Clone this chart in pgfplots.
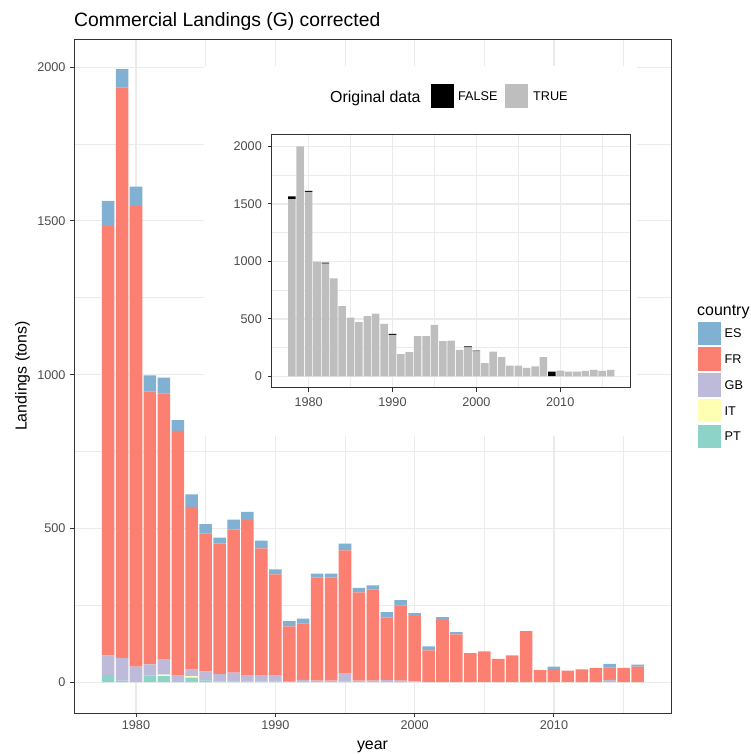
\documentclass[border=0pt]{standalone}
\usepackage{fontspec}
\setmainfont{Liberation Sans}
\usepackage{pgfplots}
\pgfplotsset{compat=1.18}
\usepackage{pgfplotstable}
\definecolor{cES}{HTML}{80B1D3}
\definecolor{cFR}{HTML}{FB8072}
\definecolor{cGB}{HTML}{BEBADA}
\definecolor{cIT}{HTML}{FFFFB3}
\definecolor{cPT}{HTML}{8DD3C7}
\definecolor{cTRUE}{HTML}{BEBEBE}
\definecolor{c20}{HTML}{333333}
\definecolor{c30}{HTML}{4D4D4D}
\definecolor{cgrid}{HTML}{EBEBEB}
\newcommand\tickfont{\fontsize{12.7}{13}\selectfont}
\newcommand\titlefont{\fontsize{16}{18}\selectfont}

\pgfplotstableread{
year PT IT GB FR ES
1978 24 0 63 1396 82
1979 5 0 74 1855 59
1980 4 0 47 1497 63
1981 22 0 36 888 52
1982 20 5 50 864 51
1983 4 0 19 794 35
1984 15 5 23 527 41
1985 6 0 29 448 31
1986 2 0 24 425 19
1987 2 0 29 465 33
1988 2 0 21 504 27
1989 2 0 21 412 25
1990 2 0 21 328 16
1991 0 0 4 178 17
1992 0 0 8 183 16
1993 0 0 5 335 13
1994 0 0 5 335 13
1995 3 0 25 401 22
1996 0 0 5 287 15
1997 0 0 5 296 14
1998 0 0 7 203 18
1999 0 0 5 245 17
2000 0 0 3 212 10
2001 0 0 0 104 13
2002 0 0 0 202 10
2003 0 0 0 156 7
2004 0 0 0 95 0
2005 0 0 0 100 0
2006 0 0 0 76 0
2007 0 0 0 87 0
2008 0 0 0 166 0
2009 0 0 0 39 0
2010 0 0 0 43 8
2011 0 0 0 38 0
2012 0 0 0 42 0
2013 0 0 0 47 0
2014 0 0 8 40 12
2015 0 0 0 47 0
2016 0 0 0 51 6
}\landings

\pgfplotstableread{
year T F
1978 1542 24
1979 2000 0
1980 1606 9
1981 999 0
1982 981 9
1983 854 0
1984 611 0
1985 512 0
1986 472 0
1987 524 0
1988 547 0
1989 457 0
1990 361 9
1991 194 0
1992 211 0
1993 350 0
1994 350 0
1995 449 0
1996 307 0
1997 313 0
1998 232 0
1999 254 9
2000 218 8
2001 116 0
2002 217 0
2003 168 0
2004 95 0
2005 95 0
2006 76 0
2007 89 0
2008 168 0
2009 3 40
2010 52 0
2011 43 0
2012 43 0
2013 49 0
2014 58 0
2015 49 0
2016 58 0
}\orig

\pgfplotsset{ggbw/.style={
  scale only axis, anchor=south west,
  axis line style={draw=c20, line width=1bp},
  grid=both,
  major grid style={draw=cgrid, line width=1.1bp},
  minor grid style={draw=cgrid, line width=0.55bp},
  tick align=outside, major tick length=3.7bp, minor tick length=0pt,
  tick style={draw=c20, line width=1bp},
  xtick pos=bottom, ytick pos=left,
  xtick={1980,1990,2000,2010}, minor xtick={1985,1995,2005,2015},
  ytick={0,500,1000,1500,2000}, minor ytick={250,750,1250,1750},
  ticklabel style={font=\tickfont, text=c30, inner sep=0pt},
  /pgf/number format/assume math mode=true,
  /pgf/number format/1000 sep={},
  ybar stacked, bar width=0.9,
  xmin=1975.55, xmax=2018.4,
}}

\begin{document}
\begin{tikzpicture}
\useasboundingbox (0bp,0bp) rectangle (751bp,754bp);
\fill[white] (0bp,0bp) rectangle (751bp,754bp);

\begin{axis}[ggbw, at={(74bp,41bp)}, width=597bp, height=673bp,
  ymin=-100, ymax=2088,
  yticklabel style={anchor=east, xshift=-4.6bp},
  xticklabel style={anchor=north, yshift=-3.6bp}]
\addplot[fill=cPT, draw=none] table[x=year, y=PT] {\landings};
\addplot[fill=cIT, draw=none] table[x=year, y=IT] {\landings};
\addplot[fill=cGB, draw=none] table[x=year, y=GB] {\landings};
\addplot[fill=cFR, draw=none] table[x=year, y=FR] {\landings};
\addplot[fill=cES, draw=none] table[x=year, y=ES] {\landings};
\end{axis}

% inset viewport
\fill[white] (204bp,318bp) rectangle (637bp,688bp);

\begin{axis}[ggbw, at={(271.7bp,366bp)}, width=359bp, height=253bp,
  xmin=1975.6, xmax=2018.4, ymin=-100, ymax=2100,
  yticklabel style={anchor=east, xshift=-6bp},
  xticklabel style={anchor=north, yshift=-5.7bp}]
\addplot[fill=cTRUE, draw=none] table[x=year, y=T] {\orig};
\addplot[fill=black, draw=none] table[x=year, y=F] {\orig};
\end{axis}

% titles
\node[anchor=base west, inner sep=0pt, font=\fontsize{19.4}{22}\selectfont] at (74bp,727bp) {Commercial Landings (G) corrected};
\node[anchor=base, inner sep=0pt, font=\titlefont] at (372.5bp,5bp) {year};
\node[anchor=base, inner sep=0pt, rotate=90, font=\titlefont] at (26.5bp,378bp) {Landings (tons)};

% country legend
\node[anchor=base west, inner sep=0pt, font=\titlefont] at (697bp,438bp) {country};
\foreach \c/\t [count=\i from 0] in {cES/ES,cFR/FR,cGB/GB,cIT/IT,cPT/PT}{
  \fill[\c] (697.7bp,{432.3bp-25.8bp*\i}) rectangle ++(23.3bp,-23.3bp);
  \node[anchor=west, inner sep=0pt, font=\tickfont] at (724.5bp,{420.6bp-25.8bp*\i}) {\t};
}

% inset legend
\node[anchor=base west, inner sep=0pt, font=\titlefont] at (330bp,651bp) {Original data};
\fill[black] (430.7bp,646.3bp) rectangle (454bp,669.7bp);
\node[anchor=west, inner sep=0pt, font=\tickfont] at (458bp,658bp) {FALSE};
\fill[cTRUE] (505bp,646.3bp) rectangle (528.3bp,669.7bp);
\node[anchor=west, inner sep=0pt, font=\tickfont] at (533bp,658bp) {TRUE};
\end{tikzpicture}
\end{document}
